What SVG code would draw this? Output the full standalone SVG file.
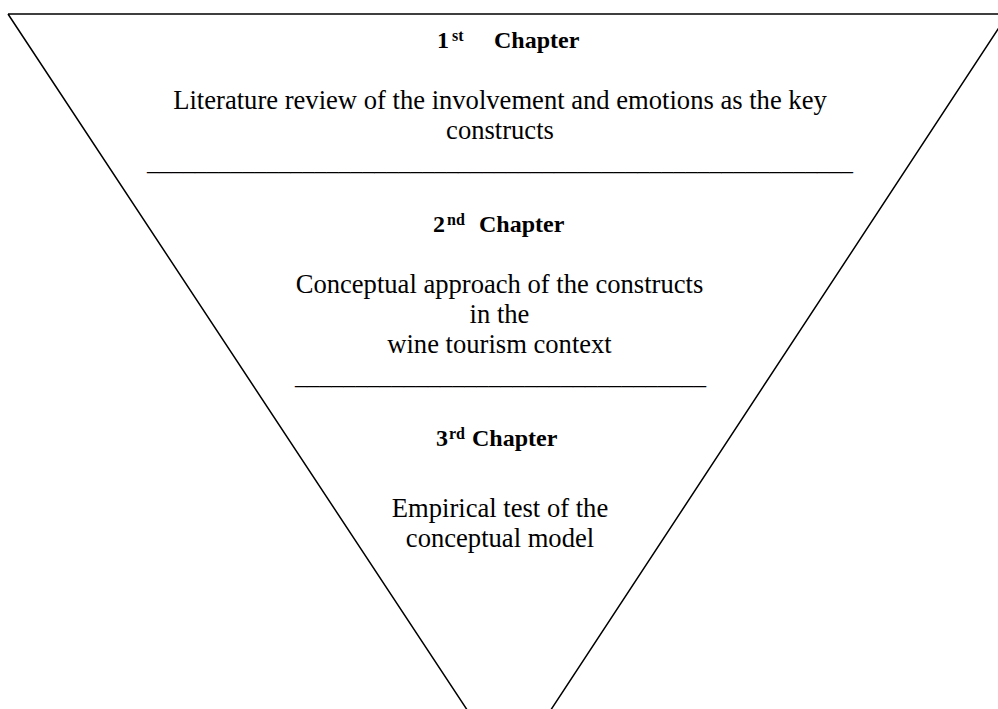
<svg xmlns="http://www.w3.org/2000/svg" width="998" height="709" viewBox="0 0 998 709">
  <style>
    text { font-family: "Liberation Serif", "Times New Roman", serif; fill: #000; }
    .b { font-size: 26.6px; text-anchor: middle; }
    .h { font-size: 24px; font-weight: bold; }
    .sup { font-size: 16px; font-weight: bold; }
    .u { font-size: 24px; }
    .frame { fill: none; stroke: #000; stroke-width: 1.5; }
  </style>
  <rect width="998" height="709" fill="#fff"/>
  <g id="funnel">
    <path class="frame" d="M 8 14 L 1012 14 M 8 14 L 470.5 715 M 1008 14 L 547.5 715"/>
  </g>
  <g id="chapter1">
    <text class="h" y="48"><tspan x="437">1</tspan><tspan class="sup" x="452" y="41">st</tspan><tspan x="494" y="48">Chapter</tspan></text>
    <text class="b" x="500" y="109">Literature review of the involvement and emotions as the key</text>
    <text class="b" x="500" y="139">constructs</text>
    <text class="u" x="147" y="169.5" textLength="706" lengthAdjust="spacingAndGlyphs">___________________________________________________________</text>
  </g>
  <g id="chapter2">
    <text class="h" y="232"><tspan x="433">2</tspan><tspan class="sup" x="447" y="225">nd</tspan><tspan x="479" y="232">Chapter</tspan></text>
    <text class="b" x="499.5" y="293">Conceptual approach of the constructs</text>
    <text class="b" x="499.5" y="323">in the</text>
    <text class="b" x="499.5" y="353">wine tourism context</text>
    <text class="u" x="295" y="383.5" textLength="411" lengthAdjust="spacingAndGlyphs">__________________________________</text>
  </g>
  <g id="chapter3">
    <text class="h" y="446"><tspan x="436">3</tspan><tspan class="sup" x="449" y="439">rd</tspan><tspan x="472" y="446">Chapter</tspan></text>
    <text class="b" x="500" y="517">Empirical test of the</text>
    <text class="b" x="500" y="547">conceptual model</text>
  </g>
</svg>
